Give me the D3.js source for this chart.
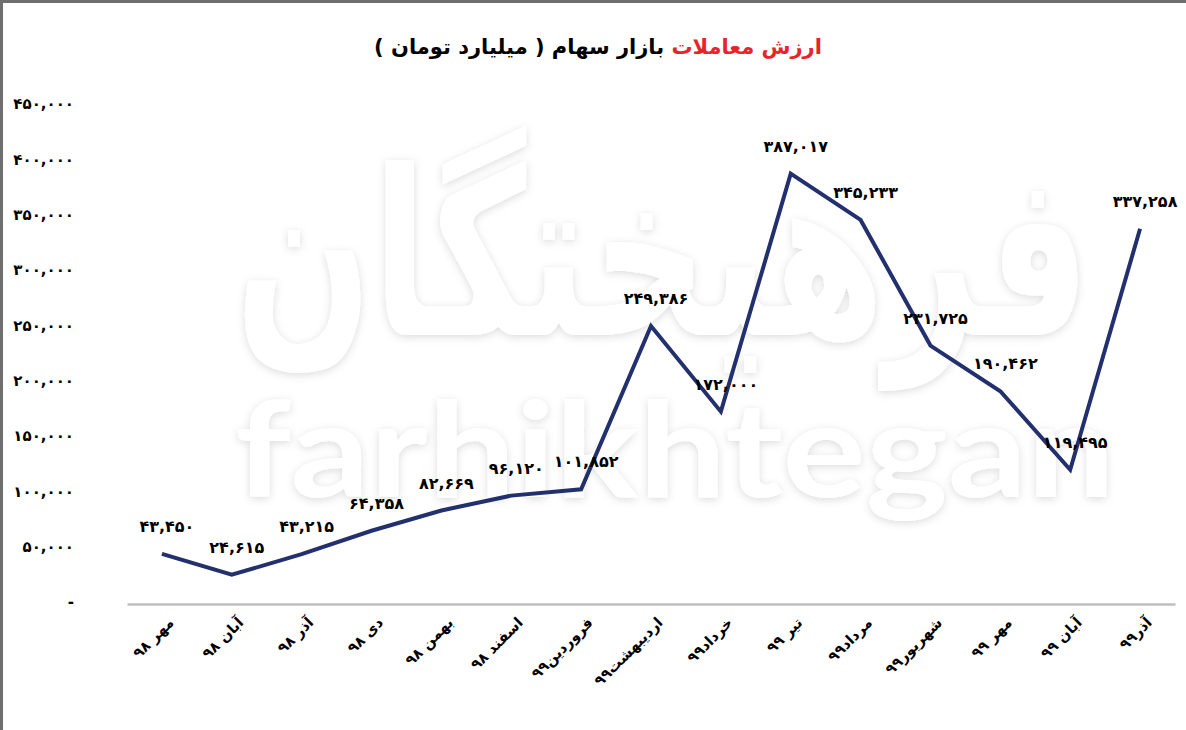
<!DOCTYPE html>
<html>
<head>
<meta charset="utf-8">
<script src="https://cdn.jsdelivr.net/npm/d3@7"></script>
<style>
  body { margin: 0; background: #fff; }
  svg { display: block; font-family: "DejaVu Sans", sans-serif; }
</style>
</head>
<body>
<div id="container"></div>
<script>
// ماه‌ها (محور افقی)
const months = ["مهر ۹۸", "آبان ۹۸", "آذر ۹۸", "دی ۹۸", "بهمن ۹۸", "اسفند ۹۸",
  "فروردین۹۹", "اردیبهشت۹۹", "خرداد۹۹", "تیر ۹۹", "مرداد۹۹", "شهریور۹۹",
  "مهر ۹۹", "آبان ۹۹", "آذر۹۹"];

// ارزش معاملات - میلیارد تومان
const tradeValue = [43450, 24615, 43215, 64358, 82669, 96120, 101852,
  249386, 172000, 387017, 345233, 231725, 190462, 119495, 337258];

const yTicks = [0, 50000, 100000, 150000, 200000, 250000, 300000, 350000, 400000, 450000];

const titleRed = "ارزش معاملات";
const titleBlack = " بازار سهام ( میلیارد تومان )";

const W = 1186, H = 730;

// اعداد فارسی
const faDigits = "۰۱۲۳۴۵۶۷۸۹";
const toFa = s => String(s).replace(/[0-9]/g, d => faDigits[+d]);
const fmt = v => toFa(d3.format(",")(v));

const svg = d3.select("#container")
  .append("svg")
  .attr("width", W)
  .attr("height", H);

// سایه واترمارک
const defs = svg.append("defs");
const f = defs.append("filter").attr("id", "wm").attr("x", "-10%").attr("y", "-20%")
  .attr("width", "120%").attr("height", "140%");
f.append("feDropShadow").attr("dx", 0).attr("dy", 2).attr("stdDeviation", 4)
  .attr("flood-color", "#000").attr("flood-opacity", 0.14);

// کادر
svg.append("rect").attr("x", 0).attr("y", 0).attr("width", W).attr("height", 3).attr("fill", "#6f6f6f");
svg.append("rect").attr("x", 0).attr("y", 0).attr("width", 3).attr("height", H).attr("fill", "#6f6f6f");

// واترمارک
const wm = svg.append("g").attr("filter", "url(#wm)").attr("fill", "#fff");
wm.append("text")
  .attr("x", 235).attr("y", 335)
  .attr("textLength", 855).attr("lengthAdjust", "spacingAndGlyphs")
  .attr("font-size", 230).attr("font-weight", "bold")
  .text("فرهیختگان");
wm.append("text")
  .attr("x", 235).attr("y", 497)
  .attr("textLength", 880).attr("lengthAdjust", "spacingAndGlyphs")
  .attr("font-family", "Lato, sans-serif")
  .attr("font-weight", "bold")
  .attr("font-size", 132)
  .text("farhikhtegan");

const x = d3.scaleBand()
  .domain(months)
  .range([127, 1175])
  .padding(0);

const y = d3.scaleLinear()
  .domain([0, 450000])
  .range([602, 104]);

// محور عمودی
const yAxis = svg.append("g")
  .attr("transform", "translate(74,0)")
  .call(d3.axisLeft(y).tickValues(yTicks).tickSize(0).tickPadding(0)
    .tickFormat(d => d === 0 ? "-" : fmt(d)));
yAxis.select(".domain").remove();
yAxis.selectAll("text")
  .attr("font-size", 15)
  .attr("font-weight", "bold")
  .attr("font-family", "DejaVu Sans, sans-serif")
  .attr("fill", "#000");

// محور افقی
const xAxis = svg.append("g")
  .attr("transform", "translate(0,604)")
  .call(d3.axisBottom(x).tickSize(0).tickFormat(""));
xAxis.select(".domain").attr("stroke", "#bfbfbf").attr("stroke-width", 2.5);

svg.append("g")
  .selectAll("text")
  .data(months)
  .enter()
  .append("text")
  .attr("transform", d => `translate(${x(d) + x.bandwidth() / 2 + 9},620) rotate(-45)`)
  .attr("text-anchor", "end")
  .attr("dy", "0.35em")
  .attr("font-size", 14.5)
  .attr("font-weight", "bold")
  .text(d => d);

// خط
const line = d3.line()
  .x((d, i) => x(months[i]) + x.bandwidth() / 2)
  .y(d => y(d));

svg.append("path")
  .datum(tradeValue)
  .attr("d", line)
  .attr("fill", "none")
  .attr("stroke", "#22306e")
  .attr("stroke-width", 4)
  .attr("stroke-linejoin", "miter");

// برچسب داده‌ها
svg.append("g")
  .selectAll("text")
  .data(tradeValue)
  .enter()
  .append("text")
  .attr("x", (d, i) => x(months[i]) + x.bandwidth() / 2 + 5)
  .attr("y", d => y(d) - 22)
  .attr("text-anchor", "middle")
  .attr("font-size", 16)
  .attr("font-weight", "bold")
  .attr("letter-spacing", -0.6)
  .attr("fill", "#000")
  .text(d => fmt(d));

// عنوان
const title = svg.append("text")
  .attr("x", 598).attr("y", 54)
  .attr("text-anchor", "middle")
  .attr("direction", "rtl")
  .attr("font-size", 21)
  .attr("font-weight", "bold");
title.append("tspan").attr("fill", "#e8232b").text(titleRed);
title.append("tspan").attr("fill", "#000").text(titleBlack);
</script>
</body>
</html>
